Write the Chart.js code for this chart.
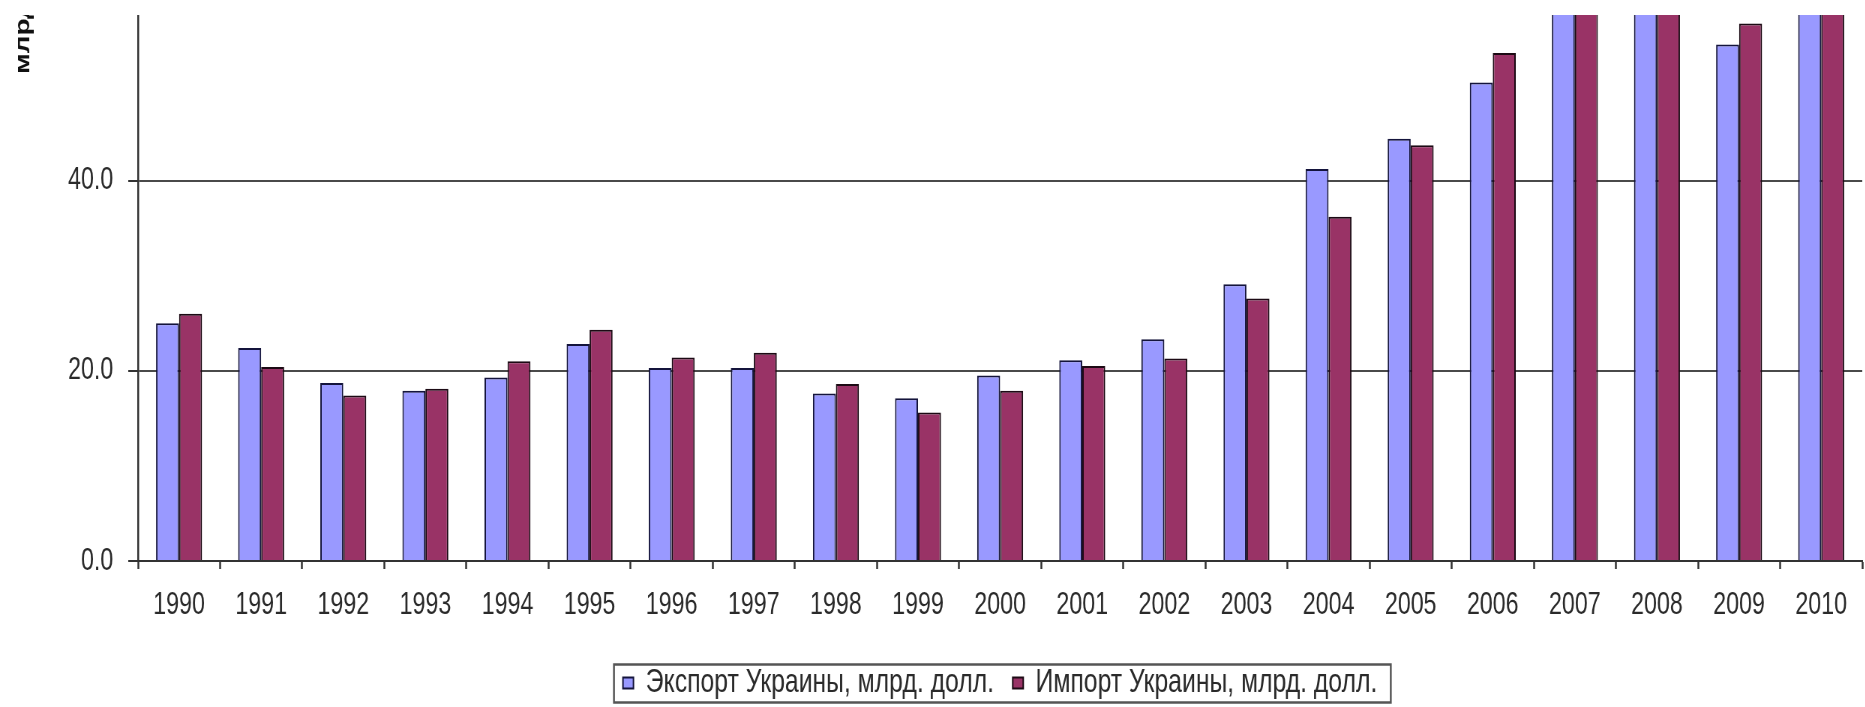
<!DOCTYPE html>
<html lang="ru">
<head>
    <meta charset="UTF-8">
    <title>Экспорт и импорт Украины</title>
    <script src="https://cdn.jsdelivr.net/npm/chart.js"></script>
    <style>
        html, body {
            margin: 0;
            padding: 0;
            background: #ffffff;
            overflow: hidden;
        }
        /* график рисуется шире и сжимается по горизонтали, как узкий шрифт Excel */
        .chart-wrap {
            position: absolute;
            left: 0;
            top: 15px;
            width: 2487px;
            height: 692px;
            transform: scaleX(0.75);
            transform-origin: 0 0;
        }
    </style>
</head>
<body>
    <div class="chart-wrap">
        <canvas id="tradeChart"></canvas>
    </div>

    <script>
        const years = ['1990', '1991', '1992', '1993', '1994', '1995', '1996', '1997', '1998', '1999', '2000',
                       '2001', '2002', '2003', '2004', '2005', '2006', '2007', '2008', '2009', '2010'];
        // млрд. долл.
        const exportValues = [25.0, 22.4, 18.7, 17.9, 19.3, 22.8, 20.3, 20.3, 17.6, 17.1, 19.5,
                              21.1, 23.3, 29.1, 41.2, 44.4, 50.3, 64.0, 85.6, 54.3, 69.3];
        const importValues = [26.0, 20.4, 17.4, 18.1, 21.0, 24.3, 21.4, 21.9, 18.6, 15.6, 17.9,
                              20.5, 21.3, 27.6, 36.2, 43.7, 53.4, 72.2, 100.1, 56.5, 70.0];
        const yTicks = [0, 20, 40];
        const seriesNames = ['Экспорт Украины, млрд. долл.', 'Импорт Украины, млрд. долл.'];
        const axisTitle = 'млрд. долл.';

        const font = '"Liberation Sans", Arial, sans-serif';
        const textColor = '#2a2a2a';

        // подпись оси Y и рамка вокруг легенды
        const extras = {
            id: 'extras',
            afterDraw(chart) {
                const ctx = chart.ctx;
                ctx.save();
                ctx.fillStyle = '#111';
                ctx.font = 'bold 28px ' + font;
                ctx.textAlign = 'left';
                ctx.textBaseline = 'middle';
                ctx.translate(31, chart.chartArea.top + 59);
                ctx.rotate(-Math.PI / 2);
                ctx.fillText(axisTitle, 0, 0);
                ctx.restore();

                const boxes = chart.legend.legendHitBoxes;
                if (boxes && boxes.length) {
                    const left = Math.min(...boxes.map(b => b.left)) - 12;
                    const right = Math.max(...boxes.map(b => b.left + b.width)) + 18;
                    const top = Math.min(...boxes.map(b => b.top)) - 2;
                    const bottom = Math.max(...boxes.map(b => b.top + b.height)) + 3;
                    ctx.save();
                    ctx.strokeStyle = '#555';
                    ctx.lineWidth = 2.5;
                    ctx.strokeRect(left, top, right - left, bottom - top);
                    ctx.restore();
                }
            }
        };

        new Chart(document.getElementById('tradeChart'), {
            type: 'bar',
            data: {
                labels: years,
                datasets: [
                    {
                        label: seriesNames[0],
                        data: exportValues,
                        backgroundColor: '#9999ff',
                        borderColor: '#14143c',
                        borderWidth: 2
                    },
                    {
                        label: seriesNames[1],
                        data: importValues,
                        backgroundColor: '#993366',
                        borderColor: '#1c0a14',
                        borderWidth: 2
                    }
                ]
            },
            options: {
                responsive: true,
                maintainAspectRatio: false,
                animation: false,
                categoryPercentage: 0.56,
                barPercentage: 1.0,
                layout: {
                    padding: { left: 0, right: 4, top: 0, bottom: -2.5 }
                },
                scales: {
                    x: {
                        afterFit(scale) {
                            scale.height = 80.5;
                            scale.paddingLeft = 0;
                            scale.paddingRight = 0;
                        },
                        grid: {
                            display: true,
                            drawOnChartArea: false,
                            drawTicks: true,
                            tickLength: 8,
                            tickColor: '#333',
                            tickWidth: 2.5
                        },
                        border: { color: '#333', width: 2 },
                        ticks: {
                            color: textColor,
                            padding: 18,
                            maxRotation: 0,
                            autoSkip: false,
                            font: { family: font, size: 31 }
                        }
                    },
                    y: {
                        min: 0,
                        max: 57.4,
                        afterBuildTicks(scale) {
                            scale.ticks = yTicks.map(v => ({ value: v }));
                        },
                        afterFit(scale) {
                            scale.width = 184;
                            scale.paddingTop = 0;
                            scale.paddingBottom = 0;
                        },
                        grid: {
                            color: '#4a4a4a',
                            lineWidth: 2,
                            drawTicks: true,
                            tickLength: 13,
                            tickColor: '#333',
                            tickWidth: 2
                        },
                        border: { color: '#333', width: 2.5 },
                        ticks: {
                            color: textColor,
                            padding: 20,
                            callback: v => v.toFixed(1),
                            font: { family: font, size: 31 }
                        }
                    }
                },
                plugins: {
                    legend: {
                        position: 'bottom',
                        fullSize: false,
                        labels: {
                            color: textColor,
                            boxWidth: 14,
                            boxHeight: 11,
                            padding: 25,
                            font: { family: font, size: 33 }
                        }
                    },
                    tooltip: { enabled: false }
                }
            },
            plugins: [extras]
        });
    </script>
</body>
</html>
